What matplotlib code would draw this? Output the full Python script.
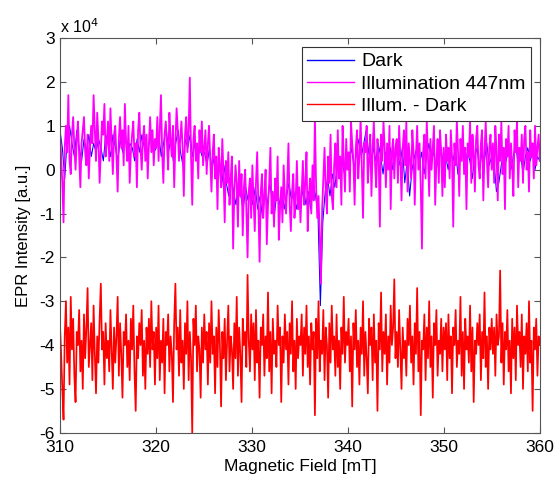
import numpy as np
import matplotlib
matplotlib.use("Agg")
import matplotlib.pyplot as plt
from matplotlib.ticker import FuncFormatter

# values in units of 1e4 (a.u.), 310 -> 360 mT
illum = [
    0.9, 0.3, -0.3, -1.2, 0.5, 1.0, 0.4, 1.7, 0.2, -0.1, 0.8, 1.2, 0.5, 0.0, 0.7, 1.1, 0.3, -0.4, 0.6, 0.9,
    1.2, 0.4, 0.1, 0.8, -0.2, 0.5, 1.0, 0.6, 1.7, 0.9, 0.2, 1.3, 0.7, -0.3, 0.4, 1.1, 0.8, 1.5, 0.3, 0.6,
    1.1, 0.2, 1.4, 0.6, -0.1, 0.8, 1.0, 0.3, -0.5, 0.7, 1.2, 0.5, 0.9, 0.1, 1.5, 0.6, 0.2, 1.0, -0.3, 0.4,
    0.8, 1.1, 0.3, 0.6, -0.4, 0.9, 1.3, 0.5, 0.0, 0.7, 1.0, 0.2, 0.8, -0.2, 0.6, 1.2, 0.4, 0.9, 0.1, 0.7,
    0.5, 1.2, 0.2, 0.9, 1.7, 0.4, -0.3, 0.8, 1.1, 0.6, 0.0, 1.3, 0.7, 0.3, 1.0, -0.4, 0.6, 1.4, 0.9, 0.2,
    0.7, 1.1, 0.5, -0.6, 0.8, 1.2, 0.4, 0.9, 2.1, 0.3, -0.8, 0.7, 1.0, 0.2, 0.6, -0.2, 0.9, 0.4, 1.1, 0.1,
    0.5, 0.9, -0.1, 0.6, 1.0, 0.2, -0.5, 0.4, 0.8, -0.2, 0.3, -0.9, 0.5, 0.1, -0.4, 0.7, -0.1, -1.2, 0.2, -0.3,
    0.4, -0.8, -0.2, 0.3, -1.8, -0.5, 0.1, -0.3, -1.3, 0.2, -0.6, -0.1, -1.5, -0.4, 0.0, -0.9, -2.0, -0.5, -0.2, -1.1,
    0.1, -0.7, -1.4, -0.3, 0.4, -0.9, -2.1, -0.5, -0.1, -1.1, -0.6, 0.0, -1.7, -0.8, -0.3, 0.5, -1.0, -0.5, -1.3, -0.2,
    -0.7, 0.3, -1.6, -0.9, -0.4, -1.2, 0.1, -0.6, -1.0, -0.3, 0.6, -0.8, -1.4, -0.5, -0.1, -1.1, -0.7, 0.2, -0.9, -0.4,
    -1.2, -0.5, 0.2, -0.8, -0.3, 0.4, -1.4, -0.6, -0.2, -1.0, 0.1, -0.7, 1.2, -0.4, -1.1, -0.6, -1.5, -2.6, -0.9, -0.2,
    0.5, -0.5, -1.0, 0.3, -0.3, 0.8, -0.6, -0.9, 0.1, 0.6, -0.4, 0.9, -0.2, 0.3, -0.8, 1.0, 0.2, -0.5, 0.7, 0.0,
    0.4, -0.5, 1.1, 0.6, 0.2, -0.8, 0.5, 0.9, -0.2, 0.3, 1.2, 0.0, -1.1, 0.6, 0.4, 1.0, -0.3, 0.2, 0.8, -0.6,
    0.5, 1.1, 0.1, -0.4, 0.7, 0.3, -1.3, 0.8, 0.2, 1.1, 0.5, -0.4, 0.6, 0.0, 1.0, -0.9, 0.4, 0.7, -0.2, 0.5,
    0.7, -0.3, 1.0, 0.3, -0.7, 0.5, 0.9, 0.1, 1.1, -0.5, 0.6, 0.2, -0.2, 0.9, 0.4, -0.8, 0.3, 1.0, 0.0, 0.6,
    -0.4, -1.8, 0.4, 0.8, -0.2, 1.1, 0.3, -0.6, 0.7, 0.0, 0.5, 1.0, -0.8, 0.2, 0.7, -0.3, 0.9, 0.4, -0.6, 0.5,
    -0.4, 0.8, 0.2, 0.5, -0.2, 0.9, 0.3, -1.3, 0.6, 0.1, 1.1, 0.4, -0.6, 0.7, 0.2, 1.0, -0.1, 0.5, -0.9, 0.6,
    0.3, 1.1, -0.3, 0.8, 0.4, -0.5, 0.7, 1.0, 0.1, -0.2, 0.6, 0.9, -0.7, 0.4, 1.1, 0.2, -0.4, 0.5, 0.8, 0.0,
    0.6, -0.3, 1.0, 0.4, -0.7, 0.8, 0.2, 1.1, -0.1, 0.5, -0.9, 0.7, 0.3, 1.0, -0.2, 0.6, 0.1, -0.6, 0.9, 0.4,
    1.1, -0.4, 0.5, 0.2, 0.8, -0.3, 0.7, 1.0, 0.0, 0.4, -0.5, 0.9, 0.3, 0.6, -0.2, 1.0, 0.1, 0.5, 0.8, 0.2,
]

dark = [
    0.9, 0.5, -0.2, 0.7, 1.0, 0.6, 0.3, 0.9, 0.5, 0.2, 0.7, 0.4, 0.8, 0.3, 0.6, 0.4, 0.7, 0.5, 0.2, 0.8,
    0.6, 0.3, 0.8, 0.5, 0.2, 0.7, 0.4, 0.9, 0.3, 0.6, 0.5, 0.2, 0.7, 0.4, 0.8, 0.5, 0.3, 0.6, 0.9, 0.4,
    0.5, 0.8, 0.3, 0.6, 1.0, 0.4, 0.7, 0.2, 0.6, 0.9, 0.4, 0.1, 0.7, 0.5, 0.8, 0.3, 0.6, 0.2, 0.5, 0.3,
    0.4, 0.1, 0.5, 0.0, 0.3, -0.2, 0.2, -0.4, 0.1, -0.3, -0.6, -0.1, -0.5, -0.8, -0.3, -0.6, -0.9, -0.4, -0.7, -0.5,
    -0.8, -0.4, -0.9, -0.6, -1.1, -0.5, -0.8, -0.3, -0.7, -1.0, -0.5, -0.8, -0.4, -0.9, -0.6, -0.3, -0.7, -0.5, -0.9, -0.6,
    -0.7, -0.4, -0.8, -0.5, -0.9, -0.3, -0.6, -1.0, -3.1, -1.2, -0.5, -0.2, -0.6, -0.1, -0.4, 0.1, -0.2, 0.2, -0.1, 0.3,
    0.2, 0.5, 0.0, 0.4, 0.7, 0.3, 0.6, 0.9, 0.4, 0.1, 0.5, 0.2, 0.6, 0.3, -0.1, 0.4, 0.2, 0.5, 0.0, 0.3,
    0.4, 0.1, 0.5, -0.3, 0.2, -0.6, 0.0, 0.3, 0.5, 0.1, 0.4, -0.1, 0.3, 0.6, 0.2, 0.4, 0.0, 0.3, 0.5, 0.1,
    0.3, 0.0, 0.4, 0.2, 0.5, -0.1, 0.3, 0.6, 0.1, 0.4, 0.2, -0.2, 0.3, 0.5, 0.0, 0.4, 0.2, 0.6, 0.1, 0.3,
    0.2, -0.5, -0.3, 0.1, 0.4, 0.2, 0.5, 0.0, 0.3, 0.6, 0.1, 0.4, -0.1, 0.3, 0.5, 0.2, 0.4, 0.0, 0.3, 0.2,
]

diff = [
    -3.5, -4.2, -5.0, -5.7, -3.8, -3.0, -4.4, -3.6, -4.9, -2.9, -4.1, -3.4, -4.7, -5.3, -3.7, -4.0, -3.2, -4.6, -3.9, -5.0,
    -3.3, -4.3, -3.6, -2.7, -4.5, -4.0, -3.5, -4.8, -3.1, -4.2, -5.1, -3.8, -4.4, -3.4, -2.6, -4.1, -3.7, -4.9, -3.5, -4.3,
    -3.9, -4.6, -3.2, -4.1, -5.0, -3.6, -4.4, -3.8, -2.9, -4.7, -3.5, -4.2, -5.2, -3.7, -4.0, -3.3, -4.5, -3.9, -4.8, -3.4,
    -4.1, -3.1, -4.6, -5.5, -3.8, -4.3, -3.5, -4.0, -3.2, -4.7, -3.9, -5.0, -3.6, -4.2, -3.4, -4.5, -3.0, -4.1, -3.7, -4.9,
    -3.6, -4.3, -3.1, -4.8, -3.9, -4.4, -3.4, -5.1, -3.7, -4.0, -3.3, -4.6, -3.8, -4.2, -5.3, -3.5, -2.6, -4.1, -3.6, -4.7,
    -3.2, -4.4, -3.9, -5.0, -3.5, -4.2, -3.0, -4.8, -3.7, -4.3, -6.0, -3.4, -4.0, -3.1, -4.6, -3.8, -4.1, -5.2, -3.6, -4.4,
    -3.3, -4.1, -3.7, -4.9, -3.5, -4.4, -3.0, -4.2, -3.8, -5.1, -3.6, -4.5, -3.2, -4.0, -5.4, -3.7, -4.3, -3.4, -4.8, -3.9,
    -3.1, -4.6, -3.8, -4.1, -5.0, -3.5, -4.3, -2.9, -4.7, -3.6, -4.2, -5.3, -3.4, -4.0, -3.7, -4.5, -2.4, -3.9, -4.6, -3.3,
    -4.1, -3.5, -4.8, -3.2, -4.4, -3.9, -5.2, -3.6, -4.0, -3.3, -4.7, -3.8, -4.3, -2.8, -4.6, -3.7, -5.1, -3.4, -4.2, -3.9,
    -4.5, -3.1, -4.0, -3.6, -5.3, -3.8, -4.4, -3.3, -4.1, -3.7, -4.9, -3.5, -4.2, -3.0, -4.6, -3.9, -5.0, -3.4, -4.3, -3.8,
    -4.0, -3.3, -4.7, -3.6, -4.2, -3.1, -4.5, -3.8, -4.9, -3.5, -4.1, -3.7, -5.6, -3.4, -4.3, -3.0, -4.6, -3.9, -4.2, -3.2,
    -4.8, -3.6, -4.0, -5.2, -3.5, -4.4, -3.1, -4.1, -3.8, -4.7, -3.3, -4.5, -3.9, -5.0, -3.6, -4.2, -2.9, -4.4, -3.7, -4.0,
    -3.4, -4.6, -3.8, -5.4, -3.5, -4.1, -3.2, -4.5, -3.9, -4.9, -3.6, -4.2, -3.0, -4.7, -3.7, -4.3, -5.1, -3.4, -4.0, -3.6,
    -4.8, -3.3, -4.4, -3.9, -5.5, -3.5, -4.1, -2.8, -4.6, -3.7, -4.2, -3.3, -4.9, -3.8, -4.4, -3.1, -4.0, -3.6, -2.5, -4.3,
    -3.7, -4.5, -3.2, -4.1, -5.0, -3.6, -4.3, -3.9, -4.7, -3.4, -4.0, -3.1, -4.4, -3.8, -4.9, -3.5, -4.2, -2.7, -4.6, -3.7,
    -5.6, -3.9, -4.1, -3.3, -4.8, -3.6, -4.3, -3.0, -4.5, -3.8, -5.2, -3.5, -4.0, -3.2, -4.7, -3.9, -4.2, -3.4, -4.6, -3.6,
    -4.1, -3.5, -4.8, -3.3, -4.3, -3.8, -5.1, -3.6, -4.0, -3.2, -4.5, -3.9, -4.2, -2.9, -4.7, -3.7, -5.0, -3.4, -4.1, -3.8,
    -4.4, -3.1, -4.6, -3.6, -5.3, -3.9, -4.2, -3.5, -4.0, -3.3, -4.8, -3.7, -4.3, -2.8, -4.5, -3.8, -5.0, -3.6, -4.1, -3.4,
    -4.2, -3.6, -4.7, -3.3, -4.0, -3.8, -2.3, -4.4, -3.5, -4.9, -3.7, -4.1, -3.2, -4.6, -3.9, -5.1, -3.4, -4.3, -3.6, -4.8,
    -3.1, -4.0, -3.7, -4.5, -3.3, -5.0, -3.8, -4.2, -3.5, -4.6, -3.0, -4.4, -3.9, -5.5, -3.6, -4.1, -3.4, -4.7, -3.8, -4.0,
]

field_start, field_end = 310, 360
xticks = [310, 320, 330, 340, 350, 360]
yticks = [-6e4, -5e4, -4e4, -3e4, -2e4, -1e4, 0, 1e4, 2e4, 3e4]

plt.rcParams['font.family'] = ['Liberation Sans', 'DejaVu Sans']

fig = plt.figure(figsize=(5.6, 4.83), dpi=100)
ax = fig.add_axes([0.107, 0.104, 0.857, 0.817])

x_il = np.linspace(field_start, field_end, len(illum))
x_dk = np.linspace(field_start, field_end, len(dark))
x_df = np.linspace(field_start, field_end, len(diff))

ax.plot(x_dk, np.array(dark) * 1e4, color="#0000ff", lw=0.75, label="Dark")
ax.plot(x_il, np.array(illum) * 1e4, color="#ff00ff", lw=1.3, label="Illumination 447nm")
ax.plot(x_df, np.array(diff) * 1e4, color="#ff0000", lw=1.25, label="Illum. - Dark")

ax.set_xlim(310, 360)
ax.set_ylim(-6e4, 3e4)
ax.set_xticks(xticks)
ax.set_yticks(yticks)
ax.yaxis.set_major_formatter(FuncFormatter(lambda v, p: f"{v / 1e4:g}"))
ax.tick_params(direction="in", top=True, right=True, labelsize=12.5, length=4, color="#555555")
ax.tick_params(axis="x", pad=5)
for s in ax.spines.values():
    s.set_color("#555555")
    s.set_linewidth(0.8)

ax.text(0.0, 1.005, r"x 10$^4$", transform=ax.transAxes, fontsize=11.5, va="bottom", ha="left")
ax.set_xlabel("Magnetic Field [mT]", fontsize=12.5, labelpad=3)
ax.set_ylabel("EPR Intensity [a.u.]", fontsize=12, labelpad=6)

leg = ax.legend(loc="upper right", fontsize=14, fancybox=False, framealpha=1,
                edgecolor="#333333", handlelength=2.4, borderaxespad=0.45,
                borderpad=0.3, labelspacing=0.25, handletextpad=0.35)
leg.get_frame().set_linewidth(0.8)
for h in leg.get_lines():
    h.set_linewidth(1.0)

fig.savefig("out.png", dpi=100)
